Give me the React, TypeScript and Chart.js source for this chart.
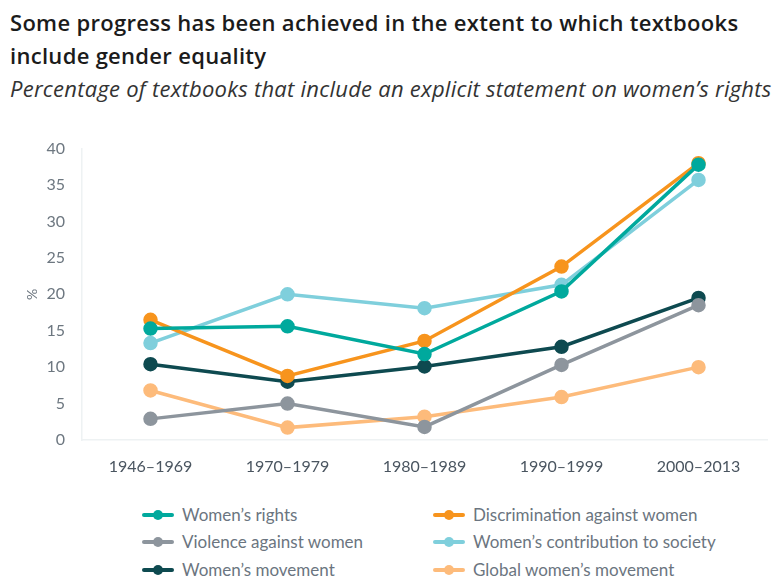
import React, { useEffect, useRef } from "react";
import { Chart, registerables } from "chart.js";

Chart.register(...registerables);

const categories = ["1946–1969", "1970–1979", "1980–1989", "1990–1999", "2000–2013"];
const yTicks = [0, 5, 10, 15, 20, 25, 30, 35, 40];

const womensRights = [15.3, 15.6, 11.8, 20.4, 37.8];
const discrimination = [16.5, 8.8, 13.6, 23.8, 38.0];
const violence = [2.9, 5.0, 1.8, 10.3, 18.5];
const contribution = [13.3, 20.0, 18.1, 21.3, 35.7];
const movement = [10.4, 8.0, 10.1, 12.8, 19.5];
const globalMovement = [6.8, 1.7, 3.2, 5.9, 10.0];

const seriesNames = [
  "Women’s rights",
  "Discrimination against women",
  "Violence against women",
  "Women’s contribution to society",
  "Women’s movement",
  "Global women’s movement",
];
const seriesData = [womensRights, discrimination, violence, contribution, movement, globalMovement];
const seriesColors = ["#00a99d", "#f7941d", "#8d959d", "#7fcfdc", "#0e4a50", "#fdbb7b"];

const FONT = "Lato, 'Open Sans', sans-serif";
const HEAD_FONT = "'Open Sans', Lato, sans-serif";

export default function App() {
  const canvasRef = useRef<HTMLCanvasElement | null>(null);

  useEffect(() => {
    const canvas = canvasRef.current;
    if (!canvas) return;
    const chart = new Chart(canvas, {
      type: "line",
      data: {
        labels: categories,
        datasets: seriesNames.map((name, i) => ({
          label: name,
          data: seriesData[i],
          borderColor: seriesColors[i],
          backgroundColor: seriesColors[i],
          pointBackgroundColor: seriesColors[i],
          pointBorderColor: seriesColors[i],
          borderWidth: 3.5,
          pointRadius: 5.5,
          tension: 0,
        })),
      },
      options: {
        animation: false,
        responsive: false,
        maintainAspectRatio: false,
        layout: { padding: { left: 0, right: 1, top: 18, bottom: 0 } },
        plugins: { legend: { display: false }, tooltip: { enabled: false }, title: { display: false } },
        scales: {
          x: {
            offset: true,
            grid: { display: false },
            border: { display: true, color: "#eef2f3", width: 1.5 },
            ticks: { color: "#4a5560", font: { family: FONT, size: 16 }, padding: 9 },
            afterFit: (scale: any) => {
              scale.height = 40;
            },
          },
          y: {
            min: 0,
            max: 40,
            afterBuildTicks: (scale: any) => {
              scale.ticks = yTicks.map((v) => ({ value: v }));
            },
            grid: { display: false },
            border: { display: true, color: "#eef2f3", width: 1.5 },
            ticks: { color: "#6d7780", font: { family: FONT, size: 16 }, padding: 9 },
            title: {
              display: true,
              text: "%",
              color: "#6d7780",
              font: { family: FONT, size: 14 },
              padding: { top: 24, bottom: 0 },
            },
            afterFit: (scale: any) => {
              scale.width = 82;
            },
          },
        },
      },
    });
    return () => chart.destroy();
  }, []);

  const legendCols = [
    { left: 142, textLeft: 182 },
    { left: 433, textLeft: 473 },
  ];
  const rowTops = [515, 542, 570];

  return (
    <div style={{ position: "absolute", left: 0, top: 0, width: 776, height: 579, background: "#fff", overflow: "hidden", fontFamily: FONT }}>
      <div style={{ position: "absolute", left: 10, top: 6, fontSize: 22, fontWeight: 600, letterSpacing: "0.3px", color: "#1b1b1b", lineHeight: "33px", width: 770, fontFamily: HEAD_FONT, whiteSpace: "nowrap" }}>
        Some progress has been achieved in the extent to which textbooks
        <br />
        include gender equality
      </div>
      <div style={{ position: "absolute", left: 10, top: 74, fontSize: 22, fontStyle: "italic", letterSpacing: "0.25px", color: "#333", lineHeight: "28px", whiteSpace: "nowrap", fontFamily: HEAD_FONT }}>
        Percentage of textbooks that include an explicit statement on women’s rights
      </div>
      <canvas ref={canvasRef} width={776} height={350} style={{ position: "absolute", left: 0, top: 130, width: 776, height: 350 }} />
      {seriesNames.map((name, i) => {
        const col = legendCols[i % 2];
        const y = rowTops[Math.floor(i / 2)];
        return (
          <div key={name} style={{ position: "absolute", left: col.left, top: y - 12, height: 24, width: 320 }}>
            <div style={{ position: "absolute", left: 0, top: 10, width: 32, height: 4, background: seriesColors[i], borderRadius: 2 }} />
            <div style={{ position: "absolute", left: 11, top: 7, width: 10, height: 10, background: seriesColors[i], borderRadius: 5 }} />
            <div style={{ position: "absolute", left: col.textLeft - col.left, top: 0, lineHeight: "24px", fontSize: 17, color: "#6b7580", whiteSpace: "nowrap" }}>
              {name}
            </div>
          </div>
        );
      })}
    </div>
  );
}
